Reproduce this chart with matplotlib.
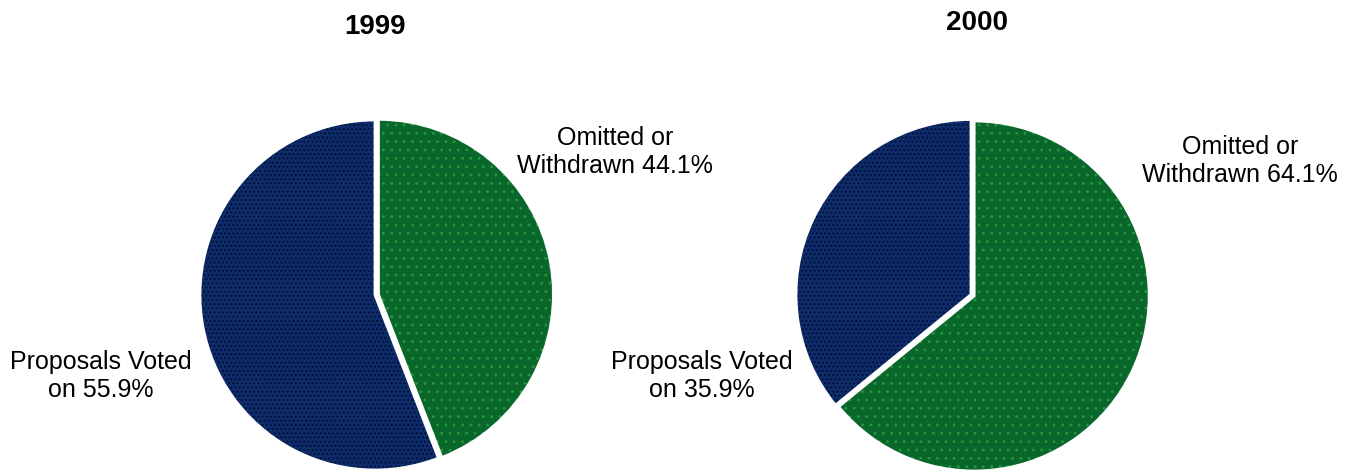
import matplotlib.pyplot as plt

plt.rcParams['font.family'] = ['Liberation Sans', 'DejaVu Sans']
plt.rcParams['hatch.linewidth'] = 0.8

W, H = 1351, 472

# Shareholder proposal outcomes by year
years = ["1999", "2000"]
labels = ["Omitted or Withdrawn", "Proposals Voted on"]
omitted = [44.1, 64.1]
voted = [55.9, 35.9]

face_colors = ["#0a672c", "#0d2c69"]
dot_colors = ["#27973c", "#020c30"]
dot_hatch = ["..", "...."]

# pie centres and text anchors, in pixels from the top-left
centres = [(375, 295), (971, 294.5)]
radius = 175
title_pos = [(375, 27), (977, 23)]
omit_pos = [(615, 152), (1240, 161)]
vote_pos = [(101, 376), (702, 376)]

fig = plt.figure(figsize=(W / 100, H / 100), dpi=100)


def fig_xy(px, py):
    return px / W, 1 - py / H


for i, year in enumerate(years):
    cx, cy = centres[i]
    ax = fig.add_axes([(cx - radius) / W, (H - cy - radius) / H,
                       2 * radius / W, 2 * radius / H])
    sizes = [omitted[i], voted[i]]
    explode = [0.02, 0]

    # solid fill
    ax.pie(sizes, colors=face_colors, startangle=90, counterclock=False,
           explode=explode, radius=1, wedgeprops=dict(linewidth=0))
    # dotted screen texture
    hatched, _ = ax.pie(sizes, colors=["none", "none"], startangle=90,
                        counterclock=False, explode=explode, radius=1,
                        wedgeprops=dict(linewidth=0))
    for w, dc, hp in zip(hatched, dot_colors, dot_hatch):
        w.set_facecolor("none")
        w.set_edgecolor(dc)
        w.set_hatch(hp)
    # white separators
    ax.pie(sizes, colors=["none", "none"], startangle=90, counterclock=False,
           explode=explode, radius=1,
           wedgeprops=dict(linewidth=2, edgecolor="white", facecolor="none"))

    ax.set_xlim(-1.0, 1.0)
    ax.set_ylim(-1.0, 1.0)
    ax.set_aspect("equal")
    ax.axis("off")

    fig.text(*fig_xy(*title_pos[i]), year, ha="center", va="center",
             fontsize=20, fontweight="bold")
    fig.text(*fig_xy(*omit_pos[i]), f"Omitted or\nWithdrawn {omitted[i]:.1f}%",
             ha="center", va="center", multialignment="center",
             fontsize=18, linespacing=1.2)
    fig.text(*fig_xy(*vote_pos[i]), f"Proposals Voted\non {voted[i]:.1f}%",
             ha="center", va="center", multialignment="center",
             fontsize=18, linespacing=1.2)

fig.savefig("out.png", dpi=100)
